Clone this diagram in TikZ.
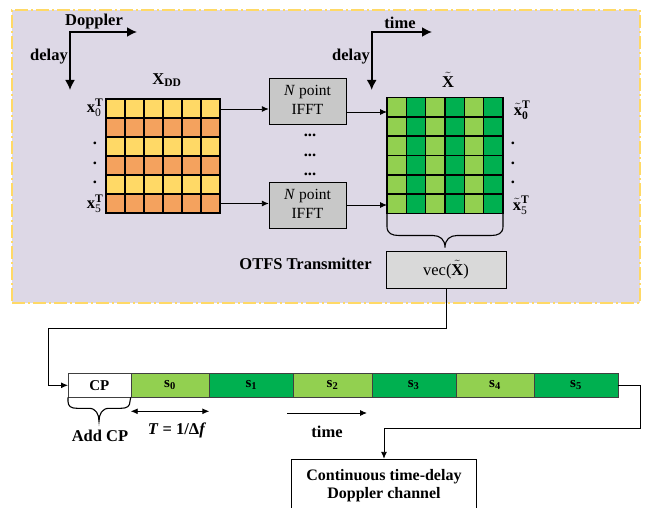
\documentclass[tikz,border=0pt]{standalone}
\usepackage{amsmath}
\usepackage{fontspec}
\setmainfont{Liberation Serif}
\usetikzlibrary{arrows.meta,positioning,calc}
\definecolor{bgColor}{HTML}{DDD8E6}
\definecolor{dashColor}{HTML}{FFD966}
\definecolor{dd0}{HTML}{FFD966}
\definecolor{dd1}{HTML}{F4A25E}
\definecolor{tx0}{HTML}{92D050}
\definecolor{tx1}{HTML}{00B050}
\definecolor{boxGray}{HTML}{C8C8C8}
\definecolor{vecGray}{HTML}{D9D9D9}

\begin{document}
\begin{tikzpicture}[x=1pt,y=-1pt,>={Latex[length=7pt,width=6pt]},
		lbl/.style={font=\fontsize{16.5}{19}\selectfont\bfseries, inner sep=0},
		mat/.style={draw, line width=1.4pt, minimum width=#1, minimum height=#1, inner sep=0, outer sep=0},
		fft/.style={draw, fill=boxGray, minimum width=77, minimum height=46, inner sep=0, font=\fontsize{15.5}{19}\selectfont},
		seg/.style={draw=black!75, minimum height=24, inner sep=0, outer sep=0, font=\fontsize{15}{17}\selectfont\bfseries},
		link/.style={->, line width=0.9pt},
		axis/.style={line width=1.8pt, >={Latex[length=10pt,width=10pt]}}]
	\useasboundingbox (0,0) rectangle (646,508);
	
	% transmitter area
	\node[draw=dashColor, fill=bgColor, line width=2pt, dash pattern=on 13pt off 3pt on 2pt off 3pt,
		minimum width=628, minimum height=293, inner sep=0] (otfs) at (326,156.5) {};
	
	\coordinate (ddR) at (137,32);
	\coordinate (ddD) at (70,90);
	\draw[axis,<->] (ddR) -| (ddD);
	\node[lbl] (dop) at (94,22) {Doppler};
	\node[lbl] (dl1) at (49,57) {delay};
	
	\node[mat=114] (xdd) at (163,156) {};
	\foreach \r in {0,...,5}
		\foreach \c in {0,...,5}{
			\pgfmathtruncatemacro\k{mod(\r,2)}
			\filldraw[fill=dd\k, line width=1.4pt] ($(xdd.north west)+(19*\c,19*\r)$) rectangle ++(19,19);
		}
	\node[lbl] (xddlab) at (167,80) {X$_{\textbf{DD}}$};
	\node[lbl] (x0) at (95,108) {$\textbf{x}_{\textmd{0}}^{\textbf{T}}$};
	\node[lbl] (xd1) at (95,143) {.};
	\node[lbl] (xd2) at (95,163) {.};
	\node[lbl] (xd3) at (95,182) {.};
	\node[lbl] (x5) at (95,204) {$\textbf{x}_{\textmd{5}}^{\textbf{T}}$};
	
	\node[fft] (f1) at (307.5,101) {\begin{tabular}{c} \textit{N} point \\ IFFT \end{tabular}};
	\node[fft] (f2) at (307.5,205) {\begin{tabular}{c} \textit{N} point \\ IFFT \end{tabular}};
	\node[lbl] (fd1) at (310,135) {...};
	\node[lbl] (fd2) at (310,155) {...};
	\node[lbl] (fd3) at (310,174) {...};
	
	\coordinate (r0) at ([yshift=-10pt]xdd.north east);
	\coordinate (r5) at ([yshift=9.5pt]xdd.south east);
	\draw[link] (r0) -- (r0 -| f1.west);
	\draw[link] (r5) -- (r5 -| f2.west);
	
	\coordinate (tmR) at (432,32);
	\coordinate (tmD) at (371.7,90);
	\draw[axis,<->] (tmR) -| (tmD);
	\node[lbl] (tm1) at (400,23) {time};
	\node[lbl] (dl2) at (351,57) {delay};
	
	\node[mat=116] (xt) at (445,155.5) {};
	\foreach \r in {0,...,5}
		\foreach \c in {0,...,5}{
			\pgfmathtruncatemacro\k{mod(\c,2)}
			\filldraw[fill=tx\k, line width=1.4pt] ($(xt.north west)+(19.333*\c,19.333*\r)$) rectangle ++(19.333,19.333);
		}
	\node[lbl] (xtlab) at (448,80) {$\tilde{\textbf{X}}$};
	\node[lbl] (xt0) at (522,110) {$\tilde{\textbf{x}}_{\textbf{0}}^{\textbf{T}}$};
	\node[lbl] (xtd1) at (513,143) {.};
	\node[lbl] (xtd2) at (513,163) {.};
	\node[lbl] (xtd3) at (513,182) {.};
	\node[lbl] (xt5) at (521,205) {$\tilde{\textbf{x}}_{\textmd{5}}^{\textbf{T}}$};
	
	\coordinate (q0) at ([yshift=-11pt]f1.east);
	\draw[link] (q0) -- (q0 -| xt.west);
	\draw[link] (f2.east) -- (f2.east -| xt.west);
	
	% brace under the matrix
	\draw[line width=1.1pt] (xt.south west) -- ++(0,13) .. controls +(0,7) and +(-7,0) .. ++(12,9)
		-- ++(34,0) .. controls +(7,0) and +(0,-8) .. ++(12,12)
		.. controls +(0,-8) and +(-7,0) .. ++(12,-12) -- ++(34,0)
		.. controls +(7,0) and +(0,7) .. ++(12,-9) -- (xt.south east);
	
	\node[draw, fill=vecGray, minimum width=120, minimum height=37, font=\fontsize{16.5}{19}\selectfont] (vec) at (446,269.5) {vec($\tilde{\textbf{X}}$)};
	\node[lbl] (otfslab) at (305.5,264) {OTFS Transmitter};
	
	% transmitted signal
	\node[seg, fill=white, minimum width=62.7] (cp) at (99.35,385.3) {CP};
	\node[seg, fill=tx0, minimum width=78.6, right=0pt of cp] (s0) {s$_{\textbf{0}}$};
	\node[seg, fill=tx1, minimum width=84, right=0pt of s0] (s1) {s$_{\textbf{1}}$};
	\node[seg, fill=tx0, minimum width=78.4, right=0pt of s1] (s2) {s$_{\textbf{2}}$};
	\node[seg, fill=tx1, minimum width=84, right=0pt of s2] (s3) {s$_{\textbf{3}}$};
	\node[seg, fill=tx0, minimum width=78.6, right=0pt of s3] (s4) {s$_{\textbf{4}}$};
	\node[seg, fill=tx1, minimum width=83.4, right=0pt of s4] (s5) {s$_{\textbf{5}}$};
	
	\draw[link] (vec.south) -- ++(0,40) -| ([xshift=-20pt]cp.west) -- (cp.west);
	
	\draw[line width=1.1pt] (cp.south west) -- ++(0,4) .. controls +(0,5) and +(-6,0) .. ++(9,7)
		-- ++(12,0) .. controls +(7,0) and +(0,-7) .. ++(10,13)
		.. controls +(0,-7) and +(-7,0) .. ++(10,-13) -- ++(12,0)
		.. controls +(6,0) and +(0,5) .. ++(9,-7) -- (cp.south east);
	\node[lbl] (addcp) at (100,436) {Add CP};
	
	\draw[link,<->] ([yshift=-14pt]s0.south west) -- ([yshift=-14pt]s0.south east);
	\node[lbl] (tsym) at (177,430) {\textit{T} = 1/Δ\textit{f}};
	
	\coordinate (ta) at (287,413);
	\coordinate (tb) at (367,413);
	\draw[link] (ta) -- (tb);
	\node[lbl] (tm2) at (327,432) {time};
	
	\node[draw, fill=white, minimum width=185, minimum height=53, inner sep=0, font=\fontsize{16}{18}\selectfont\bfseries] (chan) at (384,485.5)
		{\begin{tabular}{c} Continuous time-delay \\ Doppler channel \end{tabular}};
	\draw[link] (s5.east) -- ++(23,0) |- ([yshift=30pt]chan.north) -- (chan.north);
\end{tikzpicture}
\end{document}
